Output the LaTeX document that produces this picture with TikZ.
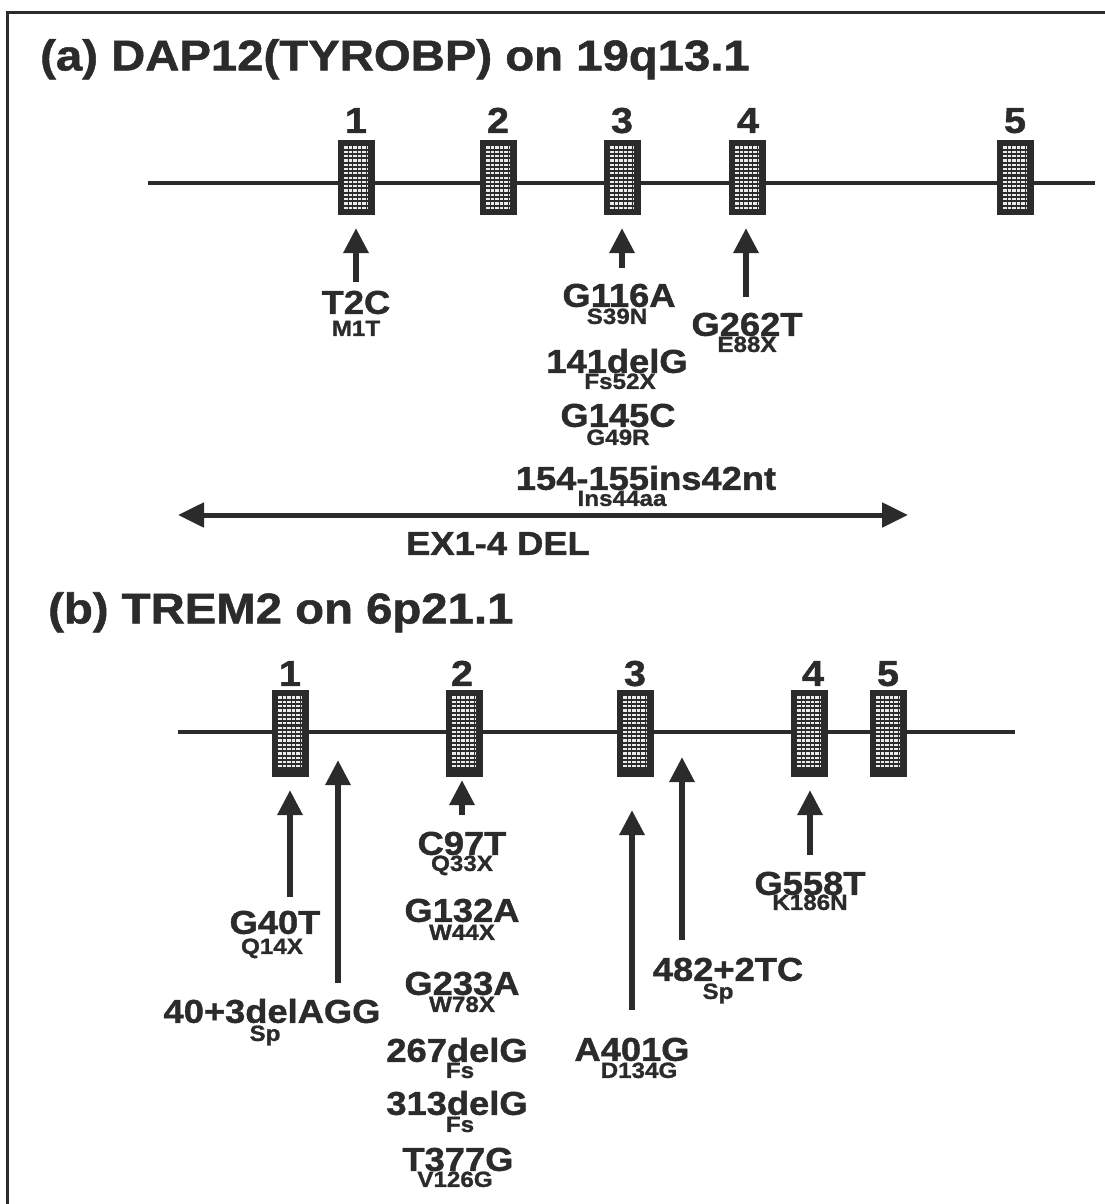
\documentclass[tikz,border=0pt]{standalone}
\usepackage{fontspec}
\setmainfont{Liberation Sans}[FakeStretch=1.1,FakeBold=1.2]
\usetikzlibrary{arrows.meta}
\definecolor{ink}{gray}{0.17}
\tikzset{
  lab/.style={text=ink, inner sep=0pt, text depth=0pt, anchor=center},
  big/.style={lab, text height=23.6pt, font=\fontsize{33}{33}\selectfont\bfseries},
  sml/.style={lab, text height=15.8pt, font=\fontsize{22}{22}\selectfont\bfseries},
  ttl/.style={lab, text height=30.8pt, font=\fontsize{43}{43}\selectfont\bfseries, anchor=west},
  num/.style={lab, text height=25.8pt, font=\fontsize{36}{36}\selectfont\bfseries},
  gene/.style={line width=4.5pt, draw=ink},
  arr/.style={line width=6pt, draw=ink, -{Triangle[width=24pt,length=25pt]}},
  darr/.style={line width=5pt, draw=ink, {Triangle[width=24pt,length=26pt]}-{Triangle[width=24pt,length=26pt]}},
  exon/.style 2 args={rectangle, fill=ink, draw=none, inner sep=0pt,
    minimum width=37pt, minimum height=#1,
    path picture={\foreach \k in {0,...,#2}{
      \draw[white!92!black, line width=2.2pt, dash pattern=on 3.5pt off 1pt]
        ([xshift=6.5pt,yshift={-7.5pt-\k*4.3pt}]path picture bounding box.north west) --
        ([xshift=-6.5pt,yshift={-7.5pt-\k*4.3pt}]path picture bounding box.north east);}}},
  exa/.style={exon={75pt}{14}},
  exb/.style={exon={87pt}{16}}
}
\begin{document}
\begin{tikzpicture}[x=1pt,y=-1pt]
\useasboundingbox (0,0) rectangle (1104,1204);
% frame
\coordinate (fbl) at (7,1230);
\coordinate (ftl) at (7,13);
\coordinate (ftr) at (1130,13);
\draw[line width=3pt, ink] (fbl) -- (ftl) -- (ftr);

% ---------- (a) ----------
\node[ttl] (ta) at (40,55) {(a) DAP12(TYROBP) on 19q13.1};
\coordinate (gal) at (148,183);
\coordinate (gar) at (1095,183);
\draw[gene] (gal) -- (gar);
\node[exa] (a1) at (356,177.5) {};
\node[exa] (a2) at (498,177.5) {};
\node[exa] (a3) at (622,177.5) {};
\node[exa] (a4) at (747,177.5) {};
\node[exa] (a5) at (1015,177.5) {};
\node[num] (na1) at (356,120) {1};
\node[num] (na2) at (498,120) {2};
\node[num] (na3) at (622,120) {3};
\node[num] (na4) at (748,120) {4};
\node[num] (na5) at (1015,120) {5};

\coordinate (aa1t) at (356,282); \coordinate (aa1h) at (356,228);
\coordinate (aa3t) at (622,268); \coordinate (aa3h) at (622,228);
\coordinate (aa4t) at (746,297); \coordinate (aa4h) at (746,228);
\draw[arr] (aa1t) -- (aa1h);
\draw[arr] (aa3t) -- (aa3h);
\draw[arr] (aa4t) -- (aa4h);

\node[big] (t2c) at (356,302) {T2C};
\node[sml] (m1t) at (356,328) {M1T};
\node[big] (g116a) at (619,295) {G116A};
\node[sml] (s39n) at (617,316) {S39N};
\node[big] (g262t) at (747,324) {G262T};
\node[sml] (e88x) at (747,344) {E88X};
\node[big] (d141) at (617,361) {141delG};
\node[sml] (fs52x) at (620,381) {Fs52X};
\node[big] (g145c) at (618,415) {G145C};
\node[sml] (g49r) at (618,437) {G49R};
\node[big] (ins42) at (646,478) {154-155ins42nt};
\node[sml] (ins44) at (622,498) {Ins44aa};
\coordinate (dl) at (178,515);
\coordinate (dr) at (908,515);
\draw[darr] (dl) -- (dr);
\node[big] (ex14) at (498,543) {EX1-4 DEL};

% ---------- (b) ----------
\node[ttl] (tb) at (48,608) {(b) TREM2 on 6p21.1};
\coordinate (gbl) at (178,732);
\coordinate (gbr) at (1015,732);
\draw[gene] (gbl) -- (gbr);
\node[exb] (b1) at (290,733.5) {};
\node[exb] (b2) at (464,733.5) {};
\node[exb] (b3) at (635,733.5) {};
\node[exb] (b4) at (809,733.5) {};
\node[exb] (b5) at (888,733.5) {};
\node[num] (nb1) at (290,673) {1};
\node[num] (nb2) at (462,673) {2};
\node[num] (nb3) at (635,673) {3};
\node[num] (nb4) at (813,673) {4};
\node[num] (nb5) at (888,673) {5};

\coordinate (ab1t) at (290,897); \coordinate (ab1h) at (290,790);
\coordinate (ab1st) at (338,983); \coordinate (ab1sh) at (338,760);
\coordinate (ab2t) at (462,815); \coordinate (ab2h) at (462,780);
\coordinate (ab3t) at (632,1010); \coordinate (ab3h) at (632,810);
\coordinate (ab3st) at (682,940); \coordinate (ab3sh) at (682,757);
\coordinate (ab4t) at (810,855); \coordinate (ab4h) at (810,790);
\draw[arr] (ab1t) -- (ab1h);
\draw[arr] (ab1st) -- (ab1sh);
\draw[arr] (ab2t) -- (ab2h);
\draw[arr] (ab3t) -- (ab3h);
\draw[arr] (ab3st) -- (ab3sh);
\draw[arr] (ab4t) -- (ab4h);

\node[big] (g40t) at (275,922) {G40T};
\node[sml] (q14x) at (272,946) {Q14X};
\node[big] (d40) at (272,1011) {40+3delAGG};
\node[sml] (sp1) at (265,1033) {Sp};
\node[big] (c97t) at (462,843) {C97T};
\node[sml] (q33x) at (462,863) {Q33X};
\node[big] (g132a) at (462,910) {G132A};
\node[sml] (w44x) at (462,932) {W44X};
\node[big] (g233a) at (462,983) {G233A};
\node[sml] (w78x) at (462,1004) {W78X};
\node[big] (d267) at (457,1050) {267delG};
\node[sml] (fs1) at (460,1070) {Fs};
\node[big] (d313) at (457,1103) {313delG};
\node[sml] (fs2) at (460,1124) {Fs};
\node[big] (t377g) at (458,1159) {T377G};
\node[sml] (v126g) at (455,1179) {V126G};
\node[big] (a401g) at (632,1049) {A401G};
\node[sml] (d134g) at (639,1070) {D134G};
\node[big] (s482) at (728,969) {482+2TC};
\node[sml] (sp2) at (718,991) {Sp};
\node[big] (g558t) at (810,883) {G558T};
\node[sml] (k186n) at (810,902) {K186N};
\end{tikzpicture}
\end{document}
